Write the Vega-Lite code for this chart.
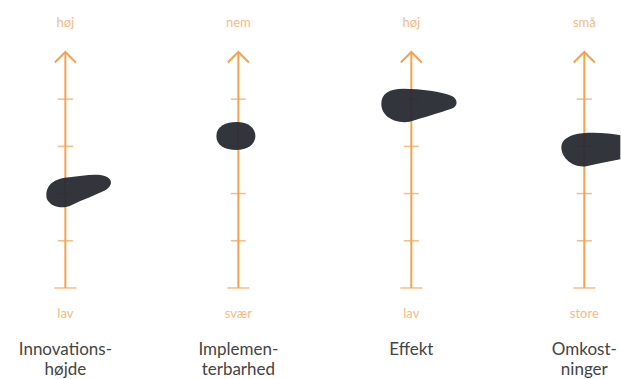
{
  "$schema": "https://vega.github.io/schema/vega-lite/v6.json",
  "width": 621,
  "height": 379,
  "autosize": {"type": "fit", "contains": "padding"},
  "padding": 0,
  "background": "white",
  "config": {"view": {"stroke": null}},
  "datasets": {
    "axes": [
      {"i": 1, "top": "høj", "bottom": "lav", "name": ["Innovations-", "højde"], "score": 2.03, "blob": "b1"},
      {"i": 2, "top": "nem", "bottom": "svær", "name": ["Implemen-", "terbarhed"], "score": 3.22, "blob": "b2"},
      {"i": 3, "top": "høj", "bottom": "lav", "name": ["Effekt"], "score": 3.9, "blob": "b3"},
      {"i": 4, "top": "små", "bottom": "store", "name": ["Omkost-", "ninger"], "score": 2.94, "blob": "b4"}
    ],
    "ticks": [
      {"i": 1, "level": 1}, {"i": 1, "level": 2}, {"i": 1, "level": 3}, {"i": 1, "level": 4},
      {"i": 2, "level": 1}, {"i": 2, "level": 2}, {"i": 2, "level": 3}, {"i": 2, "level": 4},
      {"i": 3, "level": 1}, {"i": 3, "level": 2}, {"i": 3, "level": 3}, {"i": 3, "level": 4},
      {"i": 4, "level": 1}, {"i": 4, "level": 2}, {"i": 4, "level": 3}, {"i": 4, "level": 4}
    ]
  },
  "encoding": {
    "x": {"field": "i", "type": "quantitative", "scale": {"domain": [0.6221, 4.1774], "nice": false, "zero": false}, "axis": null}
  },
  "layer": [
    {
      "data": {"name": "axes"},
      "mark": {"type": "rule", "color": "#F4A150", "strokeWidth": 2},
      "encoding": {
        "y": {"datum": 0, "type": "quantitative", "scale": {"domain": [-1.928, 6.1], "nice": false, "zero": false}, "axis": null},
        "y2": {"datum": 5}
      }
    },
    {
      "data": {"name": "ticks"},
      "mark": {"type": "tick", "orient": "horizontal", "color": "#F4A150", "size": 15, "thickness": 1.5},
      "encoding": {"y": {"field": "level", "type": "quantitative"}}
    },
    {
      "data": {"name": "axes"},
      "mark": {"type": "tick", "orient": "horizontal", "color": "#F4A150", "size": 22, "thickness": 1.5},
      "encoding": {"y": {"datum": 0, "type": "quantitative"}}
    },
    {
      "data": {"name": "axes"},
      "mark": {"type": "point", "shape": "M-1,1L0,0L1,1", "size": 441, "filled": false, "stroke": "#F4A150", "strokeWidth": 2, "opacity": 1},
      "encoding": {"y": {"datum": 5, "type": "quantitative"}}
    },
    {
      "data": {"name": "axes"},
      "mark": {"type": "point", "filled": true, "size": 4, "opacity": 0.95, "color": "#272a31"},
      "encoding": {
        "y": {"field": "score", "type": "quantitative"},
        "shape": {
          "field": "blob",
          "type": "nominal",
          "legend": null,
          "scale": {
            "domain": ["b1", "b2", "b3", "b4"],
            "range": [
              "M-19,3C-19,-9,-9,-14,4,-15C16,-16,30,-19,40,-16C48,-13,47,-6,40,-2C30,3,18,7,6,13C-2,17,-12,15,-16,10C-19,7,-19,5,-19,3Z",
              "M-22,0C-22,-10,-12,-14,-2,-14C10,-14,17,-8,17,0C17,9,8,14,-2,14C-14,14,-22,9,-22,0Z",
              "M-30,0C-30,-10,-22,-15,-8,-15C10,-15,30,-12,40,-8C47,-5,47,3,40,5C28,9,12,14,-2,18C-18,20,-30,12,-30,0Z",
              "M-23,-2C-23,-10,-14,-15,-2,-16C12,-17,26,-16,36,-14L36,10C24,12,12,15,2,17C-12,19,-23,8,-23,-2Z"
            ]
          }
        }
      }
    },
    {
      "data": {"name": "axes"},
      "mark": {"type": "text", "font": "Lato", "fontSize": 13, "color": "#F4BC84", "align": "center", "baseline": "alphabetic"},
      "encoding": {"y": {"datum": 5.53, "type": "quantitative"}, "text": {"field": "top"}}
    },
    {
      "data": {"name": "axes"},
      "mark": {"type": "text", "font": "Lato", "fontSize": 13, "color": "#F4BC84", "align": "center", "baseline": "alphabetic"},
      "encoding": {"y": {"datum": -0.64, "type": "quantitative"}, "text": {"field": "bottom"}}
    },
    {
      "data": {"name": "axes"},
      "mark": {"type": "text", "font": "Lato", "fontSize": 17, "color": "#444444", "align": "center", "baseline": "alphabetic", "lineHeight": 20},
      "encoding": {"y": {"datum": -1.42, "type": "quantitative"}, "text": {"field": "name"}}
    }
  ]
}
